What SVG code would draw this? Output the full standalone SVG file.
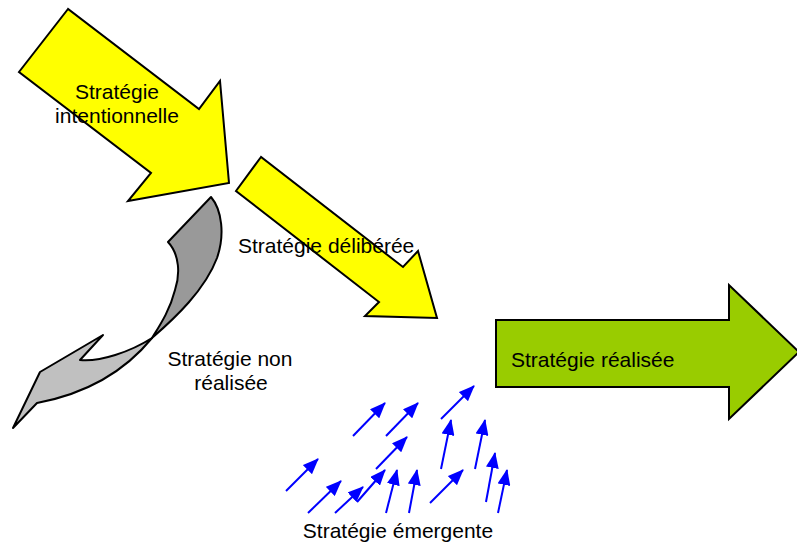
<svg xmlns="http://www.w3.org/2000/svg" width="797" height="544" viewBox="0 0 797 544">
  <style>
    .lbl { font-family: "Liberation Sans", Arial, Helvetica, sans-serif; font-size: 21px; fill: #000; }
    .yellow { fill: #ffff00; stroke: #000; stroke-width: 2; stroke-linejoin: miter; }
    .green { fill: #99cc00; stroke: #000; stroke-width: 2; }
    .dark { fill: #999999; stroke: #000; stroke-width: 2; stroke-linejoin: round; }
    .light { fill: #c0c0c0; stroke: #000; stroke-width: 2; stroke-linejoin: round; }
    .blue { stroke: #0000ff; stroke-width: 2; fill: none; marker-end: url(#bluehead); }
  </style>
  <defs>
    <marker id="bluehead" markerUnits="userSpaceOnUse" viewBox="0 0 16 13" refX="15" refY="6.5" markerWidth="16" markerHeight="13" orient="auto">
      <path d="M0,0 L16,6.5 L0,13 Z" fill="#0000ff"/>
    </marker>
  </defs>
  <rect width="797" height="544" fill="#ffffff"/>

  <g id="strategie-non-realisee">
    <path class="light" d="M152,338 C130,365 95,392 37,403 L13,428 L40,372 L103,335 L80,360 C100,362 130,352 152,338 Z"/>
    <path class="dark" d="M152,338 C175,318 205,290 217,258 C225,235 222,210 211,197 L168,242 C180,255 180,275 175,290 C170,310 160,325 152,338 Z"/>
    <text class="lbl" x="230" y="366" text-anchor="middle">Stratégie non</text>
    <text class="lbl" x="231" y="390" text-anchor="middle">réalisée</text>
  </g>

  <g id="strategie-intentionnelle">
    <polygon class="yellow" points="68,9 19,72 151,173 128,201 229,183 220,81 199,109"/>
    <text class="lbl" x="117" y="99" text-anchor="middle">Stratégie</text>
    <text class="lbl" x="117" y="123" text-anchor="middle">intentionnelle</text>
  </g>

  <g id="strategie-deliberee">
    <polygon class="yellow" points="261,157 236,191 379,302 365,316 437,318 418,251 403,267"/>
    <text class="lbl" x="238" y="253">Stratégie délibérée</text>
  </g>

  <g id="strategie-realisee">
    <polygon class="green" points="496,320 729,320 729,285 799,352 729,419 729,387 496,387"/>
    <text class="lbl" x="511" y="367">Stratégie réalisée</text>
  </g>

  <g id="strategie-emergente">
    <g id="connectors">
      <line class="blue" x1="353" y1="436" x2="385" y2="403"/>
      <line class="blue" x1="386" y1="436" x2="418" y2="403"/>
      <line class="blue" x1="441" y1="419" x2="474" y2="386"/>
      <line class="blue" x1="376" y1="469" x2="407" y2="437"/>
      <line class="blue" x1="441" y1="469" x2="451" y2="420"/>
      <line class="blue" x1="475" y1="469" x2="485" y2="420"/>
      <line class="blue" x1="286" y1="491" x2="318" y2="459"/>
      <line class="blue" x1="308" y1="513" x2="341" y2="481"/>
      <line class="blue" x1="335" y1="513" x2="363" y2="487"/>
      <line class="blue" x1="357" y1="502" x2="385" y2="470"/>
      <line class="blue" x1="386" y1="513" x2="397" y2="470"/>
      <line class="blue" x1="409" y1="513" x2="417" y2="470"/>
      <line class="blue" x1="430" y1="503" x2="463" y2="470"/>
      <line class="blue" x1="486" y1="502" x2="495" y2="453"/>
      <line class="blue" x1="498" y1="513" x2="507" y2="470"/>
    </g>
    <text class="lbl" x="398" y="538" text-anchor="middle">Stratégie émergente</text>
  </g>
</svg>
